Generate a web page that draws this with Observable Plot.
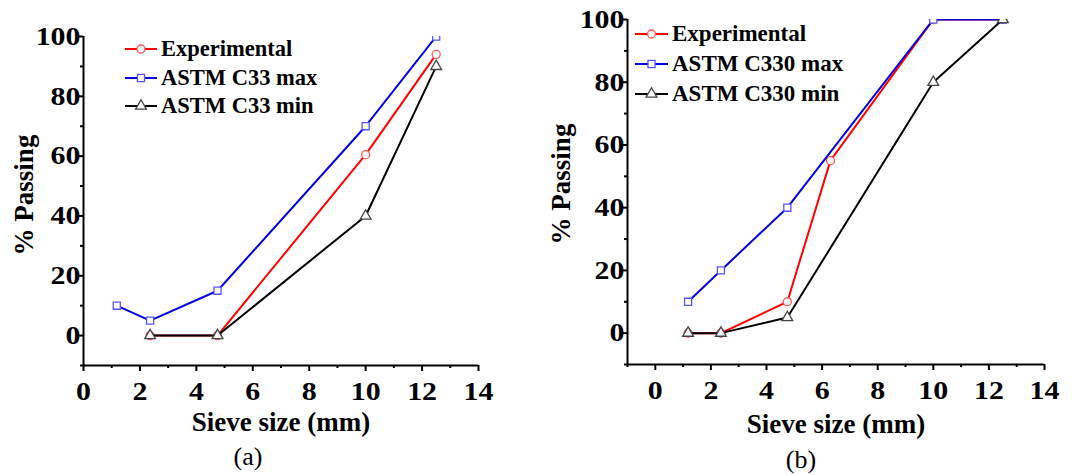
<!DOCTYPE html>
<html><head><meta charset="utf-8">
<script src="https://cdn.jsdelivr.net/npm/d3@7"></script>
<script src="https://cdn.jsdelivr.net/npm/@observablehq/plot@0.6"></script>
<style>
body{margin:0;background:#fff;width:1075px;height:475px;position:relative;overflow:hidden;font-family:"Liberation Serif","Times New Roman",serif;}
.panel{position:absolute;top:0;height:475px;}
.legend{position:absolute;left:0;top:0;font-weight:bold;color:#000;}
.legend .row{position:absolute;display:flex;align-items:center;white-space:nowrap;height:26px;line-height:26px;}
.legend svg{display:block;overflow:visible;}
</style></head><body>
<div id="a" class="panel" style="left:0;width:540px"></div>
<div id="b" class="panel" style="left:540px;width:535px"></div>
<script>
// ---------- data: panel (a) ----------
const namesA = ["Experimental", "ASTM C33 max", "ASTM C33 min"];
const sieveExpA = [2.36, 4.75, 10, 12.5];
const passExpA  = [0, 0, 60.5, 94];
const sieveMaxA = [1.18, 2.36, 4.75, 10, 12.5];
const passMaxA  = [10, 5, 15, 70, 100];
const sieveMinA = [2.36, 4.75, 10, 12.5];
const passMinA  = [0, 0, 40, 90];
const xMajorA = [0, 2, 4, 6, 8, 10, 12, 14];
const xMinorA = [1, 3, 5, 7, 9, 11, 13];

// ---------- data: panel (b) ----------
const namesB = ["Experimental", "ASTM C330 max", "ASTM C330 min"];
const sieveExpB = [1.18, 2.36, 4.75, 6.3, 10, 12.5];
const passExpB  = [0, 0, 10, 55, 100, 100];
const sieveMaxB = [1.18, 2.36, 4.75, 10, 12.5];
const passMaxB  = [10, 20, 40, 100, 100];
const sieveMinB = [1.18, 2.36, 4.75, 10, 12.5];
const passMinB  = [0, 0, 5, 80, 100];
const xMajorB = [0, 2, 4, 6, 8, 10, 12, 14];
const xMinorB = [-1, 1, 3, 5, 7, 9, 11, 13];

// shared y ticks
const yMajor = [0, 20, 40, 60, 80, 100];
const yMinor = [-10, 10, 30, 50, 70, 90];

const xTitle = "Sieve size (mm)";
const yTitle = "% Passing";

// ---------- styles ----------
const STYLES = [
  {line: "#ff0000", mark: "#ff5555", symbol: "circle"},
  {line: "#0000dd", mark: "#5555ff", symbol: "square"},
  {line: "#000000", mark: "#444444", symbol: "triangle"}
];
const SERIF = "Liberation Serif, Times New Roman, serif";
const R = 4;

function rows(xs, ys) { return xs.map((x, i) => ({x, y: ys[i]})); }

function panel(el, cfg) {
  const marks = [];
  // axis lines (L-shape)
  marks.push(Plot.ruleX([cfg.xDomain[0]], {stroke: "#000", strokeWidth: 2}));
  marks.push(Plot.ruleY([cfg.yDomain[0]], {stroke: "#000", strokeWidth: 2}));
  // ticks
  marks.push(Plot.axisX(cfg.xMajor, {anchor: "bottom", tickSize: 6, strokeWidth: 2, fill: "none", label: null}));
  marks.push(Plot.axisX(cfg.xMinor, {anchor: "bottom", tickSize: 3, strokeWidth: 2, fill: "none", label: null}));
  marks.push(Plot.axisY(yMajor, {anchor: "left", tickSize: 6, strokeWidth: 2, fill: "none", label: null}));
  marks.push(Plot.axisY(yMinor, {anchor: "left", tickSize: 3, strokeWidth: 2, fill: "none", label: null}));
  // tick labels
  marks.push(Plot.axisX(cfg.xMajor, {anchor: "bottom", tickSize: 0, tickPadding: 16, fill: "#000",
    fontSize: 26, fontWeight: "bold", fontFamily: SERIF, label: null}));
  marks.push(Plot.axisY(yMajor, {anchor: "left", tickSize: 0, tickPadding: 3, fill: "#000",
    fontSize: 26, fontWeight: "bold", fontFamily: SERIF, label: null}));
  // series
  cfg.series.forEach((s, i) => {
    const st = STYLES[i];
    const data = rows(s.x, s.y);
    marks.push(Plot.line(data, {x: "x", y: "y", stroke: st.line, strokeWidth: 2, clip: true}));
    marks.push(Plot.dot(data, {x: "x", y: "y", symbol: st.symbol, r: R, stroke: st.mark, fill: "white", strokeWidth: 1.3, clip: true}));
  });
  // titles
  marks.push(Plot.text([xTitle], {text: d => d, frameAnchor: "bottom", lineAnchor: "middle", textAnchor: "middle",
    dx: cfg.xtDx, dy: cfg.xtDy, fontSize: 27, fontWeight: "bold", fontFamily: SERIF, fill: "#000"}));
  marks.push(Plot.text([yTitle], {text: d => d, frameAnchor: "left", lineAnchor: "middle", textAnchor: "middle",
    rotate: -90, dx: cfg.ytDx, dy: cfg.ytDy, fontSize: 27, fontWeight: "bold", fontFamily: SERIF, fill: "#000"}));
  marks.push(Plot.text([cfg.caption], {text: d => d, frameAnchor: "bottom", lineAnchor: "middle", textAnchor: "middle",
    dx: cfg.capDx, dy: cfg.capDy, fontSize: 26, fontFamily: SERIF, fill: "#000"}));

  const svg = Plot.plot({
    width: cfg.width, height: 475,
    marginLeft: cfg.ml, marginRight: cfg.mr, marginTop: cfg.mt, marginBottom: cfg.mb,
    x: {domain: cfg.xDomain}, y: {domain: cfg.yDomain},
    style: {background: "white", overflow: "visible", color: "#000"},
    marks
  });
  // widen tick label glyphs like the reference
  svg.querySelectorAll('g[aria-label="x-axis tick label"] text, g[aria-label="y-axis tick label"] text').forEach(t => {
    t.setAttribute("transform", (t.getAttribute("transform") || "") + " scale(1.15,1)");
  });
  el.appendChild(svg);

  // legend (HTML overlay)
  const lg = document.createElement("div");
  lg.className = "legend";
  lg.style.fontSize = cfg.lgFont + "px";
  cfg.series.forEach((s, i) => {
    const st = STYLES[i];
    const row = document.createElement("div");
    row.className = "row";
    row.style.left = cfg.lgX + "px";
    row.style.top = (cfg.lgY + i * cfg.lgStep - 13) + "px";
    const sym = {circle: d3.symbolCircle, square: d3.symbolSquare, triangle: d3.symbolTriangle}[st.symbol];
    const path = d3.symbol(sym, Math.PI * R * R)();
    const w = cfg.lgW;
    row.innerHTML = `<svg width="${w}" height="14" viewBox="0 0 ${w} 14">
      <line x1="0" x2="${w}" y1="7" y2="7" stroke="${st.line}" stroke-width="2"/>
      <path d="${path}" transform="translate(${w/2},7)" fill="white" stroke="${st.mark}" stroke-width="1.3"/>
    </svg><span style="margin-left:4px">${s.name}</span>`;
    lg.appendChild(row);
  });
  el.appendChild(lg);
}

panel(document.getElementById("a"), {
  width: 540, ml: 83, mr: 62, mt: 36, mb: 110,
  xDomain: [0, 14], yDomain: [-10, 100],
  xMajor: xMajorA, xMinor: xMinorA,
  series: [
    {name: namesA[0], x: sieveExpA, y: passExpA},
    {name: namesA[1], x: sieveMaxA, y: passMaxA},
    {name: namesA[2], x: sieveMinA, y: passMinA}
  ],
  xtDx: 0, xtDy: 57, ytDx: -59, ytDy: -6, caption: "(a)", capDx: -33, capDy: 91,
  lgX: 125, lgY: 49, lgStep: 28.5, lgW: 32, lgFont: 22.5
});

panel(document.getElementById("b"), {
  width: 535, ml: 87, mr: 31, mt: 19, mb: 111,
  xDomain: [-1, 14], yDomain: [-10, 100],
  xMajor: xMajorB, xMinor: xMinorB,
  series: [
    {name: namesB[0], x: sieveExpB, y: passExpB},
    {name: namesB[1], x: sieveMaxB, y: passMaxB},
    {name: namesB[2], x: sieveMinB, y: passMinB}
  ],
  xtDx: 0, xtDy: 60, ytDx: -66, ytDy: -8, caption: "(b)", capDx: -35, capDy: 95,
  lgX: 95, lgY: 34, lgStep: 30, lgW: 33, lgFont: 23
});
</script>
</body></html>
